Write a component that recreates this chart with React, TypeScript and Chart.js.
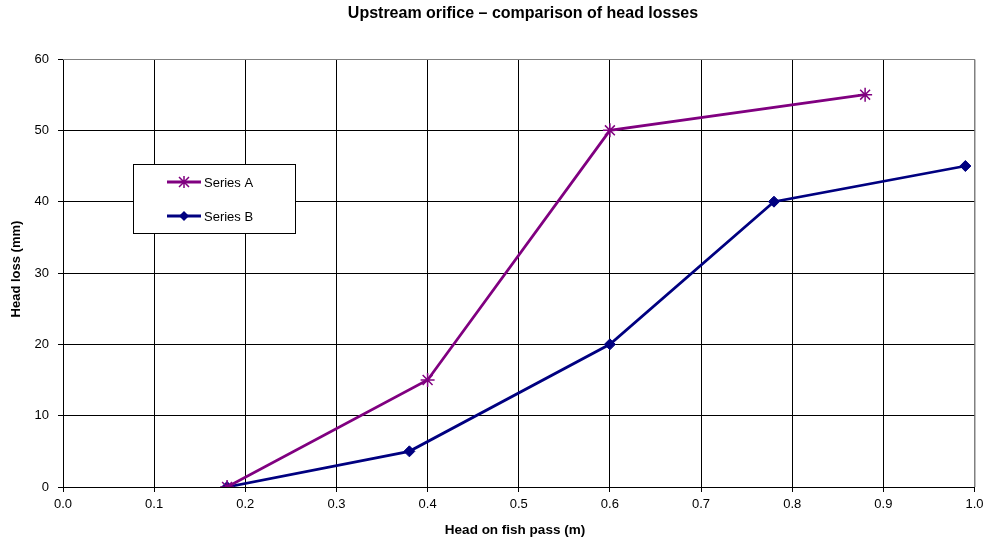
import React, { useEffect, useRef } from "react";
import { Chart, registerables } from "chart.js";

Chart.register(...registerables);

const seriesAX = [0.18, 0.4, 0.6, 0.88];
const seriesAY = [0, 15, 50, 55];
const seriesBX = [0.18, 0.38, 0.6, 0.78, 0.99];
const seriesBY = [0, 5, 20, 40, 45];
const seriesNames = ["Series A", "Series B"];
const chartTitle = "Upstream orifice \u2013 comparison of head losses";
const xTitle = "Head on fish pass (m)";
const yTitle = "Head loss (mm)";

const FONT = "'Liberation Sans', Arial, sans-serif";
const PURPLE = "#800080";
const NAVY = "#000080";

const overlayPlugin = {
  id: "overlay",
  afterDraw(chart: any) {
    const ctx = chart.ctx;
    const ca = chart.chartArea;
    ctx.save();
    ctx.strokeStyle = "#808080";
    ctx.lineWidth = 1;
    ctx.beginPath();
    ctx.moveTo(ca.left, ca.top + 0.5);
    ctx.lineTo(ca.right + 0.5, ca.top + 0.5);
    ctx.lineTo(ca.right + 0.5, ca.bottom);
    ctx.stroke();
    ctx.fillStyle = "#000";
    ctx.textAlign = "center";
    ctx.textBaseline = "middle";
    ctx.font = `bold 16px ${FONT}`;
    ctx.fillText(chartTitle, 523, 14);
    ctx.font = `bold 13.5px ${FONT}`;
    ctx.fillText(xTitle, 515, 530);
    ctx.save();
    ctx.translate(16, 269);
    ctx.rotate(-Math.PI / 2);
    ctx.font = `bold 13px ${FONT}`;
    ctx.fillText(yTitle, 0, 0);
    ctx.restore();
    // legend
    const lx = 133, ly = 164, lw = 162, lh = 69;
    ctx.fillStyle = "#fff";
    ctx.fillRect(lx, ly, lw, lh);
    ctx.strokeStyle = "#000";
    ctx.lineWidth = 1;
    ctx.strokeRect(lx + 0.5, ly + 0.5, lw, lh);
    const items = [
      { name: seriesNames[0], color: PURPLE, y: ly + 18, style: "star" },
      { name: seriesNames[1], color: NAVY, y: ly + 52, style: "diamond" },
    ];
    items.forEach((it) => {
      ctx.strokeStyle = it.color;
      ctx.lineWidth = 3;
      ctx.beginPath();
      ctx.moveTo(lx + 34, it.y);
      ctx.lineTo(lx + 68, it.y);
      ctx.stroke();
      const cx = lx + 51;
      if (it.style === "star") {
        ctx.lineWidth = 1.5;
        ctx.beginPath();
        ctx.moveTo(cx - 5, it.y - 5); ctx.lineTo(cx + 5, it.y + 5);
        ctx.moveTo(cx + 5, it.y - 5); ctx.lineTo(cx - 5, it.y + 5);
        ctx.moveTo(cx, it.y - 6); ctx.lineTo(cx, it.y + 6);
        ctx.stroke();
      } else {
        ctx.fillStyle = it.color;
        ctx.beginPath();
        ctx.moveTo(cx, it.y - 5); ctx.lineTo(cx + 5, it.y);
        ctx.lineTo(cx, it.y + 5); ctx.lineTo(cx - 5, it.y);
        ctx.closePath();
        ctx.fill();
      }
      ctx.fillStyle = "#000";
      ctx.textAlign = "left";
      ctx.font = `13px ${FONT}`;
      ctx.fillText(it.name, lx + 71, it.y + 1);
    });
    ctx.restore();
  },
};

export default function App() {
  const ref = useRef<HTMLCanvasElement>(null);
  useEffect(() => {
    if (!ref.current) return;
    const chart = new Chart(ref.current, {
      type: "line",
      data: {
        datasets: [
          {
            label: seriesNames[0],
            data: seriesAX.map((x, i) => ({ x, y: seriesAY[i] })),
            borderColor: PURPLE,
            backgroundColor: PURPLE,
            borderWidth: 2.75,
            pointStyle: "star",
            pointRadius: 7,
            pointBorderWidth: 1.5,
            pointBorderColor: PURPLE,
            tension: 0,
          },
          {
            label: seriesNames[1],
            data: seriesBX.map((x, i) => ({ x, y: seriesBY[i] })),
            borderColor: NAVY,
            backgroundColor: NAVY,
            borderWidth: 2.75,
            pointStyle: "rectRot",
            pointRadius: 5.5,
            pointBorderWidth: 1,
            pointBorderColor: NAVY,
            tension: 0,
          },
        ],
      },
      options: {
        animation: false,
        responsive: false,
        layout: { padding: { top: 59, right: 8, left: 0, bottom: 0 } },
        plugins: { legend: { display: false }, title: { display: false }, tooltip: { enabled: false } },
        scales: {
          x: {
            type: "linear",
            min: 0,
            max: 1,
            afterFit: (s: any) => { s.height = 54; s.paddingRight = 0; s.paddingLeft = 0; },
            ticks: {
              stepSize: 0.1,
              padding: 5,
              color: "#000",
              font: { family: FONT, size: 13 },
              callback: (v: any) => Number(v).toFixed(1),
            },
            grid: {
              color: (c: any) => (c.tick && Math.abs(c.tick.value - 1) < 1e-9 ? "#808080" : "#000"),
              tickColor: "#000",
              tickLength: 5,
              lineWidth: 1,
            },
            border: { color: "#000", width: 1 },
          },
          y: {
            type: "linear",
            min: 0,
            max: 60,
            afterFit: (s: any) => { s.width = 63; s.paddingTop = 0; s.paddingBottom = 0; },
            ticks: {
              stepSize: 10,
              padding: 9,
              color: "#000",
              font: { family: FONT, size: 13 },
            },
            grid: {
              color: (c: any) => (c.tick && c.tick.value === 60 ? "#808080" : "#000"),
              tickColor: "#000",
              tickLength: 5,
              lineWidth: 1,
            },
            border: { color: "#000", width: 1 },
          },
        },
      },
      plugins: [overlayPlugin],
    } as any);
    return () => chart.destroy();
  }, []);
  return (
    <div style={{ position: "fixed", left: 0, top: 0, width: 983, height: 541, background: "#fff" }}>
      <canvas ref={ref} width={983} height={541} style={{ width: 983, height: 541 }} />
    </div>
  );
}
